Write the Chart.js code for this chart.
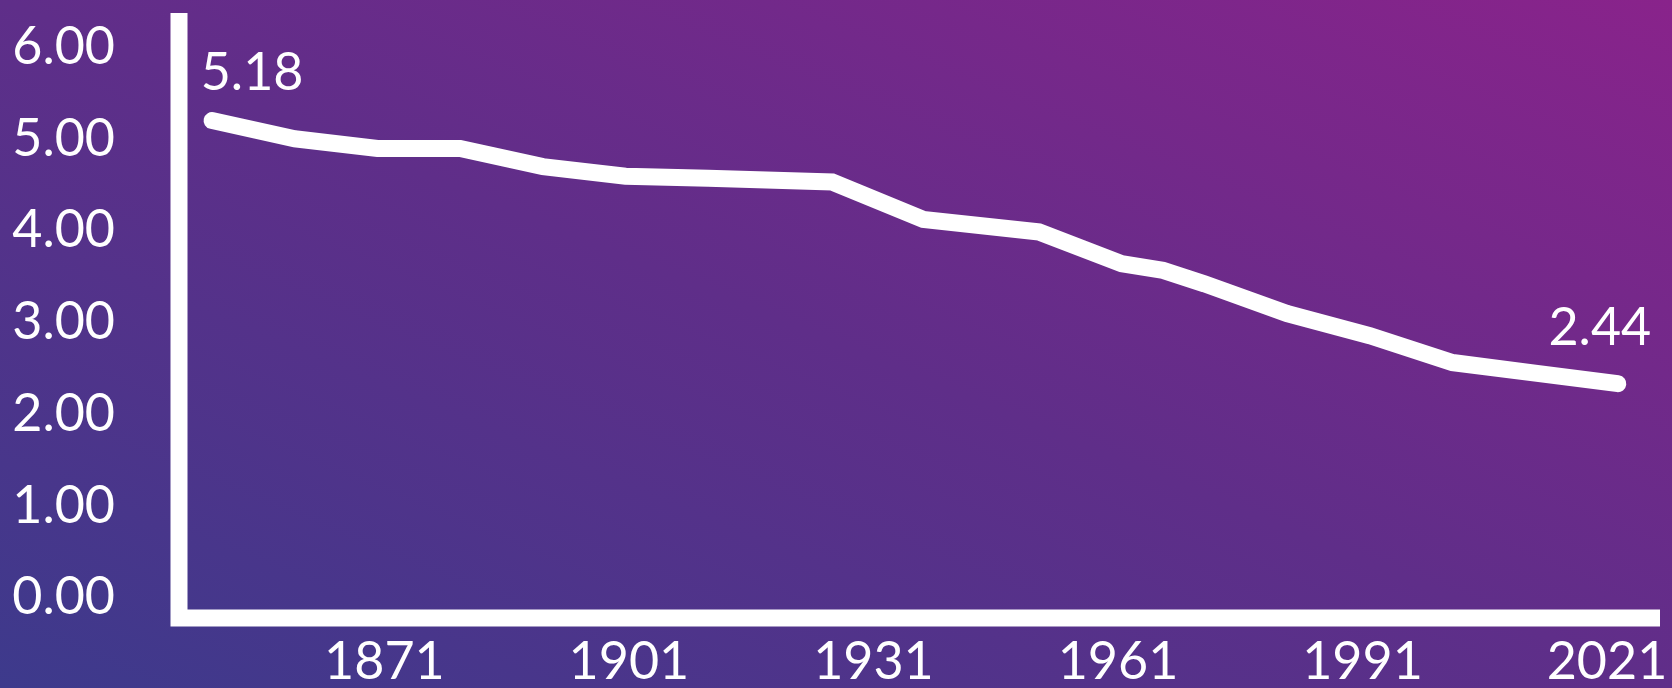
<!DOCTYPE html>
<html>
<head>
<meta charset="utf-8">
<script src="https://cdn.jsdelivr.net/npm/chart.js@4.4.1/dist/chart.umd.min.js"></script>
<style>
  html, body { margin: 0; padding: 0; }
  body {
    width: 1672px; height: 688px; overflow: hidden;
    background: linear-gradient(to top right, #3d3a8c 0%, #5f2e89 50%, #89238b 100%);
  }
  canvas { display: block; }
</style>
</head>
<body>
<canvas id="chart" width="1672" height="688"></canvas>
<script>
// census years and average household size
const years = [1851, 1861, 1871, 1881, 1891, 1901, 1911, 1926, 1937, 1951,
               1961, 1966, 1971, 1981, 1991, 2001, 2011, 2021];
const sizes = [5.18, 4.99, 4.89, 4.89, 4.70, 4.60, 4.58, 4.54, 4.15, 4.02,
               3.69, 3.62, 3.48, 3.17, 2.94, 2.66, 2.55, 2.44];

const xTickYears = [1871, 1901, 1931, 1961, 1991, 2021];
const yTickValues = [0, 1, 2, 3, 4, 5, 6];

const FONT = "Lato, 'Open Sans', sans-serif";
const WHITE = "#ffffff";

// thick white L-shaped frame along the plot area
const axisFrame = {
  id: "axisFrame",
  beforeDatasetsDraw(chart) {
    const { ctx, chartArea: a } = chart;
    ctx.save();
    ctx.strokeStyle = WHITE;
    ctx.lineWidth = 17;
    ctx.lineJoin = "miter";
    ctx.lineCap = "butt";
    ctx.beginPath();
    ctx.moveTo(a.left, a.top);
    ctx.lineTo(a.left, a.bottom);
    ctx.lineTo(a.right, a.bottom);
    ctx.stroke();
    ctx.restore();
  },
};

// value labels on the first and last points only
const endLabels = {
  id: "endLabels",
  afterDatasetsDraw(chart) {
    const { ctx } = chart;
    const pts = chart.getDatasetMeta(0).data;
    const first = pts[0], last = pts[pts.length - 1];
    ctx.save();
    ctx.fillStyle = WHITE;
    ctx.font = `52px ${FONT}`;
    ctx.textAlign = "center";
    ctx.textBaseline = "middle";
    ctx.fillText(sizes[0].toFixed(2), first.x + 40, first.y - 47);
    ctx.fillText(sizes[sizes.length - 1].toFixed(2), last.x - 18, last.y - 55);
    ctx.restore();
  },
};

const ctx = document.getElementById("chart").getContext("2d");
new Chart(ctx, {
  type: "line",
  data: {
    datasets: [{
      data: years.map((y, i) => ({ x: y, y: sizes[i] })),
      borderColor: WHITE,
      borderWidth: 17,
      borderCapStyle: "round",
      borderJoinStyle: "miter",
      pointRadius: 0,
      tension: 0,
      fill: false,
      xAxisID: "x",
      yAxisID: "y",
    }],
  },
  options: {
    responsive: false,
    animation: false,
    devicePixelRatio: 1,
    layout: { padding: { top: 13, right: 12, bottom: 0, left: 0 } },
    plugins: { legend: { display: false }, tooltip: { enabled: false } },
    scales: {
      // data scales (hidden)
      x: { type: "linear", display: false, min: 1847, max: 2026.1 },
      y: { type: "linear", display: false, min: 0, max: 6.3 },
      // label scales, placed like the original artwork
      xTicks: {
        type: "linear",
        position: "bottom",
        min: 1845.8,
        max: 2027.5,
        grid: { display: false },
        border: { display: false },
        afterBuildTicks: (s) => { s.ticks = xTickYears.map((v) => ({ value: v })); },
        afterFit: (s) => { s.height = 70; s.paddingLeft = 0; s.paddingRight = 0; },
        ticks: {
          color: WHITE,
          font: { family: FONT, size: 52 },
          padding: 5,
          maxRotation: 0,
          autoSkip: false,
          callback: (v) => String(v),
        },
      },
      yTicks: {
        type: "linear",
        position: "left",
        min: -0.222,
        max: 6.37,
        grid: { display: false },
        border: { display: false },
        afterBuildTicks: (s) => { s.ticks = yTickValues.map((v) => ({ value: v })); },
        afterFit: (s) => { s.width = 179; s.paddingTop = 0; s.paddingBottom = 0; },
        ticks: {
          color: WHITE,
          font: { family: FONT, size: 52 },
          padding: 56,
          callback: (v) => v.toFixed(2),
        },
      },
    },
  },
  plugins: [axisFrame, endLabels],
});
</script>
</body>
</html>
